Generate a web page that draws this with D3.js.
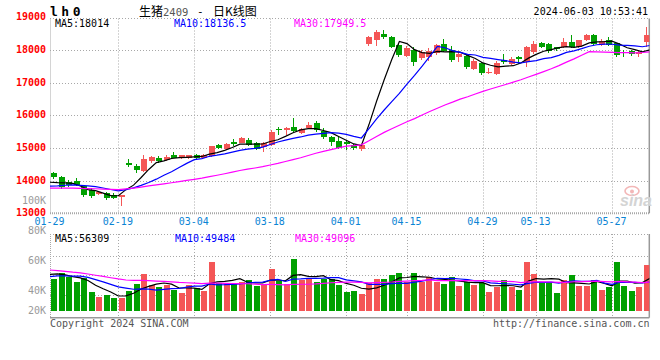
<!DOCTYPE html>
<html><head><meta charset="utf-8">
<script src="https://cdn.jsdelivr.net/npm/d3@7"></script>
<style>
html,body{margin:0;padding:0;background:#fff;}
svg{display:block;}
text{font-family:"DejaVu Sans Mono",monospace;font-size:10px;}
</style></head><body>
<svg id="c" width="660" height="360"></svg>
<script>
// ---------------- data ----------------
const dates = ["01-29","01-30","01-31","02-01","02-02","02-05","02-06","02-07","02-08",
 "02-19","02-20","02-21","02-22","02-23","02-26","02-27","02-28","02-29","03-01",
 "03-04","03-05","03-06","03-07","03-08","03-11","03-12","03-13","03-14","03-15",
 "03-18","03-19","03-20","03-21","03-22","03-25","03-26","03-27","03-28","03-29",
 "04-01","04-02","04-03","04-08","04-09","04-10","04-11","04-12",
 "04-15","04-16","04-17","04-18","04-19","04-22","04-23","04-24","04-25","04-26",
 "04-29","04-30","05-06","05-07","05-08","05-09","05-10",
 "05-13","05-14","05-15","05-16","05-17","05-20","05-21","05-22","05-23","05-24",
 "05-27","05-28","05-29","05-30","05-31","06-03"];
const tickDates = ["01-29","02-19","03-04","03-18","04-01","04-15","04-29","05-13","05-27"];

const open = [14230,14120,13970,13980,13840,13710,13580,13610,13560,13510,
 14550,14460,14280,14590,14680,14640,14770,14680,14690,14770,
 14700,14740,15080,14970,15190,15160,15240,15140,15020,15090,
 15580,15580,15630,15470,15600,15750,15530,15330,15210,15170,
 15080,14960,18180,18290,18490,18390,18150,17820,18000,17750,
 17800,17900,18180,18000,17800,17820,17410,17590,17300,17270,
 17690,17560,17800,17620,17950,18200,18180,18080,18080,18250,
 18080,18290,18460,18140,18300,18200,17950,17980,17880,18240];
const high = [14270,14140,14020,14070,13870,13760,13660,13660,13610,13570,
 14650,14500,14790,14750,14750,14800,14890,14800,14790,14830,
 14810,15070,15130,15140,15270,15350,15300,15180,15170,15560,
 15630,15640,15930,15620,15810,15830,15620,15370,15350,15250,
 15110,15120,18420,18620,18600,18440,18200,18120,18100,17990,
 18050,18180,18330,18130,17950,17880,17710,17640,17460,17660,
 17880,17800,17830,18130,18260,18250,18200,18100,18360,18460,
 18310,18490,18490,18330,18390,18220,18010,18010,18010,18710];
const low = [14060,13740,13820,13830,13510,13480,13560,13420,13440,13220,
 14430,14220,14270,14550,14530,14610,14680,14650,14670,14640,
 14680,14720,14970,14950,15060,15140,15060,14940,14890,15060,
 15400,15400,15500,15430,15580,15500,15270,15060,14960,14940,
 14940,14920,18130,18120,18330,18050,17800,17780,17510,17700,
 17670,17850,17950,17640,17640,17420,17390,17230,17250,17220,
 17570,17540,17570,17490,17880,18050,17920,17980,18050,18050,
 18050,18260,18150,18120,18130,17800,17800,17810,17770,18100];
const close = [14100,13790,13870,13860,13560,13540,13640,13480,13480,13550,
 14470,14330,14650,14710,14600,14730,14700,14770,14770,14680,
 14780,15060,14990,15120,15120,15290,15090,14970,15140,15500,
 15560,15600,15520,15580,15700,15550,15330,15190,14990,15120,
 14990,15090,18390,18560,18410,18100,17850,18050,17640,17950,
 17980,18150,17980,17690,17870,17490,17660,17310,17330,17610,
 17620,17720,17720,18080,18180,18100,17980,18020,18230,18080,
 18290,18460,18180,18260,18150,17850,17900,17880,17940,18460];
const volume = [54700,65000,57600,49600,56400,32500,23900,27400,22200,22200,
 34200,46200,63300,44500,41000,44500,35900,30800,44500,39300,
 34200,83800,47900,47900,47900,49600,53000,42800,46200,71800,
 51300,46200,88900,53000,56400,49600,54700,54200,44500,32500,
 34200,29100,47300,54700,54700,61600,65000,50200,65000,50200,
 58100,50200,46200,58100,42800,50200,44500,47300,32500,41600,
 53000,41600,35900,83800,63300,47300,47300,30800,53000,61600,
 42800,42800,53000,35900,41000,83800,42800,34200,41000,78700];
// estimated closes / volumes of the 29 sessions before the first visible one (for the moving averages)
const priorClose = [13850,13820,13780,13800,13760,13790,13770,13760,13780,
 13720,13690,13700,13680,13710,13690,13700,13720,13690,13700,13690,
 13680,13700,13710,13720,13740,13850,13900,13940,13960];
const priorVolume = [98000,95000,92000,88000,94000,86000,90000,88000,85000,88000,
 66000,60000,64000,58000,62000,59000,63000,60000,61500,59000,
 52000,56000,54000,55700,55000,62000,66000,64100,67000];

const priceTicks = [19000,18000,17000,16000,15000,14000,13000];
const priceGrid = [18000,17000,16000,15000,14000];
const volLabelTicks = [100000,80000,60000,40000,20000];
const maPeriods = [5,10,30];
const maColors = ["#000000","#0000ff","#ff00ff"];
const priceMaLabels = ["MA5:18014","MA10:18136.5","MA30:17949.5"];
const volMaLabels = ["MA5:56309","MA10:49484","MA30:49096"];
const titleCode = "lh0", titleName = "生猪", titleNum = "2409", titleSep = "-", titleKind = "日K线图";
const timestamp = "2024-06-03 10:53:41";
const copyright = "Copyright 2024 SINA.COM", siteUrl = "http://finance.sina.com.cn";

// ---------------- layout ----------------
const L = 50, R = 650, RB = 649.3;
const mTop = 18.5, mBot = 213.3;
const vTop = 234, vBot = 317.7, vBase = 311;
const UP = "#f45656", DOWN = "#00a000", GRID = "#a8a8a8";

const svg = d3.select("#c");
const xBand = d3.scaleBand().domain(dates).range([L, R]);
const xPoint = d3.scalePoint().domain(dates).range([L, R]);
const y = d3.scaleLinear().domain([13000, 19000]).range([mBot, 17.3]);
const vY = d3.scaleLinear().domain([0, 131670]).range([vBase, vTop]);
const vLabelY = d3.scaleLinear().domain([20000, 100000]).range([320.7, 200.7]);
const vGrid = d3.scaleLinear().domain([0, 1]).range([236, 314.8]);

const data = dates.map((d, i) => ({d, o: open[i], h: high[i], l: low[i], c: close[i], v: volume[i]}));
const cx = d => Math.round(xBand(d));

function movingAvg(series, prior, n) {
  const all = prior.concat(series);
  return series.map((_, i) => { const e = prior.length + i; return d3.mean(all.slice(e - n + 1, e + 1)); });
}

const defs = svg.append("defs");
defs.append("clipPath").attr("id", "cm").append("rect").attr("x", L).attr("y", mTop).attr("width", RB - L).attr("height", mBot - mTop);
defs.append("clipPath").attr("id", "cv").append("rect").attr("x", L).attr("y", vTop).attr("width", RB - L).attr("height", vBot - vTop);

// ---------------- grids & frames ----------------
const g = svg.append("g");
function hline(yy, x1, x2, dash, w, col) {
  g.append("line").attr("x1", x1).attr("x2", x2).attr("y1", yy).attr("y2", yy)
    .attr("stroke", col || GRID).attr("stroke-width", w || 1).attr("stroke-dasharray", dash || null);
}
function vline(xx, y1, y2, dash, w, col) {
  g.append("line").attr("x1", xx).attr("x2", xx).attr("y1", y1).attr("y2", y2)
    .attr("stroke", col || GRID).attr("stroke-width", w || 1).attr("stroke-dasharray", dash || null);
}
priceGrid.forEach(p => hline(Math.round(y(p)) + 0.5, L, RB, "1,2"));
[0.25, 0.5, 0.75].forEach(f => hline(Math.round(vGrid(f)) + 0.5, L, RB, "1,2"));
tickDates.slice(1).forEach(d => {
  const xx = Math.round(xPoint(d)) + 0.5;
  vline(xx, mTop, mBot, "1,2");
  vline(xx, vTop, vBot, "1,2");
});
hline(mTop, L, RB, "1,2");
hline(vTop + 0.5, L, RB, "1,2");
hline(mBot, L, RB, "1,1", 2);
hline(vBot, L, RB, null, 1.5, "#999");
vline(L + 0.5, mTop, mBot, "1,1");
vline(L + 0.5, vTop, vBot, "1,1");
vline(RB, mTop, mBot, null, 1.5, "#999");
vline(RB, vTop, vBot, null, 1.5, "#999");

// watermark
const wm = svg.append("g");
wm.append("ellipse").attr("cx", 632).attr("cy", 191).attr("rx", 7).attr("ry", 4.5)
  .attr("fill", "none").attr("stroke", "#f3b7b7").attr("stroke-width", 1.6);
wm.append("circle").attr("cx", 632).attr("cy", 191.5).attr("r", 2).attr("fill", "#f3b7b7");
wm.append("text").attr("x", 620).attr("y", 206).text("sina")
  .style("font-family", "Liberation Sans, Arial, sans-serif").style("font-size", "16px")
  .style("font-weight", "bold").style("font-style", "italic").attr("fill", "#d4d4d4");

// ---------------- candles ----------------
const cg = svg.append("g").attr("clip-path", "url(#cm)").attr("shape-rendering", "crispEdges");
cg.selectAll("line.w").data(data).join("line")
  .attr("x1", d => cx(d.d) + 3.5).attr("x2", d => cx(d.d) + 3.5)
  .attr("y1", d => y(d.h)).attr("y2", d => y(d.l))
  .attr("stroke", d => d.c >= d.o ? UP : DOWN).attr("stroke-width", 1);
cg.selectAll("rect.b").data(data).join("rect")
  .attr("x", d => cx(d.d) + 0.5).attr("width", 6)
  .attr("y", d => y(Math.max(d.o, d.c)))
  .attr("height", d => Math.max(1.2, y(Math.min(d.o, d.c)) - y(Math.max(d.o, d.c))))
  .attr("fill", d => d.c >= d.o ? UP : DOWN);

// price MAs
const pm = svg.append("g").attr("clip-path", "url(#cm)");
maPeriods.forEach((n, k) => {
  const vals = movingAvg(close, priorClose, n);
  pm.append("path").datum(vals)
    .attr("d", d3.line().x((v, i) => xPoint(dates[i])).y(v => y(v)))
    .attr("fill", "none").attr("stroke", maColors[k]).attr("stroke-width", 1.2);
});

// ---------------- volume ----------------
const vg = svg.append("g").attr("clip-path", "url(#cv)").attr("shape-rendering", "crispEdges");
vg.selectAll("rect").data(data).join("rect")
  .attr("x", d => cx(d.d) + 0.5).attr("width", 6)
  .attr("y", d => vY(d.v)).attr("height", d => vBase - vY(d.v))
  .attr("fill", d => d.c >= d.o ? UP : DOWN);
const vm = svg.append("g").attr("clip-path", "url(#cv)");
maPeriods.forEach((n, k) => {
  const vals = movingAvg(volume, priorVolume, n);
  vm.append("path").datum(vals)
    .attr("d", d3.line().x((v, i) => xPoint(dates[i])).y(v => vY(v)))
    .attr("fill", "none").attr("stroke", maColors[k]).attr("stroke-width", 1.2);
});

// ---------------- axes ----------------
const ya = svg.append("g").attr("transform", `translate(${L},0)`)
  .call(d3.axisLeft(y).tickValues(priceTicks).tickSize(0).tickPadding(4).tickFormat(d3.format("d")));
ya.select(".domain").remove();
ya.selectAll("text").attr("fill", "#ff0000").attr("dy", "0.24em")
  .style("font-family", "DejaVu Sans Mono, monospace").style("font-size", "10px").style("font-weight", "bold");

const xa = svg.append("g").attr("transform", `translate(-1,${mBot})`)
  .call(d3.axisBottom(xPoint).tickValues(tickDates).tickSize(0).tickPadding(5));
xa.select(".domain").remove();
xa.selectAll("text").attr("fill", "#0a84d4")
  .style("font-family", "DejaVu Sans Mono, monospace").style("font-size", "10px");

svg.append("g").selectAll("text").data(volLabelTicks).join("text")
  .attr("x", 46).attr("y", v => Math.min(vLabelY(v), 310.4) + 3.7)
  .attr("text-anchor", "end").attr("fill", "#9a9a9a").text(v => (v / 1000) + "K");

// ---------------- texts ----------------
const legendX = [55, 174, 294];
priceMaLabels.forEach((t, k) => svg.append("text").attr("x", legendX[k]).attr("y", 27.3).attr("fill", maColors[k]).text(t));
volMaLabels.forEach((t, k) => svg.append("text").attr("x", legendX[k] + (k ? 1 : 0)).attr("y", 242).attr("fill", maColors[k]).text(t));

svg.append("text").attr("x", 50).attr("y", 15.6).text(titleCode)
  .style("font-size", "13px").style("font-weight", "bold").style("letter-spacing", "3.5px").attr("fill", "#000");
const cjk = "Noto Sans CJK SC, sans-serif";
svg.append("text").attr("x", 139).attr("y", 15.5).text(titleName).style("font-family", cjk).style("font-size", "12px").attr("fill", "#000");
svg.append("text").attr("x", 163).attr("y", 15.5).text(titleNum).style("font-size", "10.5px").attr("fill", "#555");
svg.append("text").attr("x", 197).attr("y", 15).text(titleSep).style("font-size", "11px").attr("fill", "#000");
svg.append("text").attr("x", 213).attr("y", 15.5).text(titleKind).style("font-family", cjk).style("font-size", "12px").attr("fill", "#000");
svg.append("text").attr("x", 648).attr("y", 15).attr("text-anchor", "end").attr("fill", "#000").text(timestamp);

svg.append("text").attr("x", 50).attr("y", 327).attr("fill", "#555").text(copyright);
svg.append("text").attr("x", 649.5).attr("y", 327).attr("text-anchor", "end").attr("fill", "#555").text(siteUrl);
</script>
</body></html>
